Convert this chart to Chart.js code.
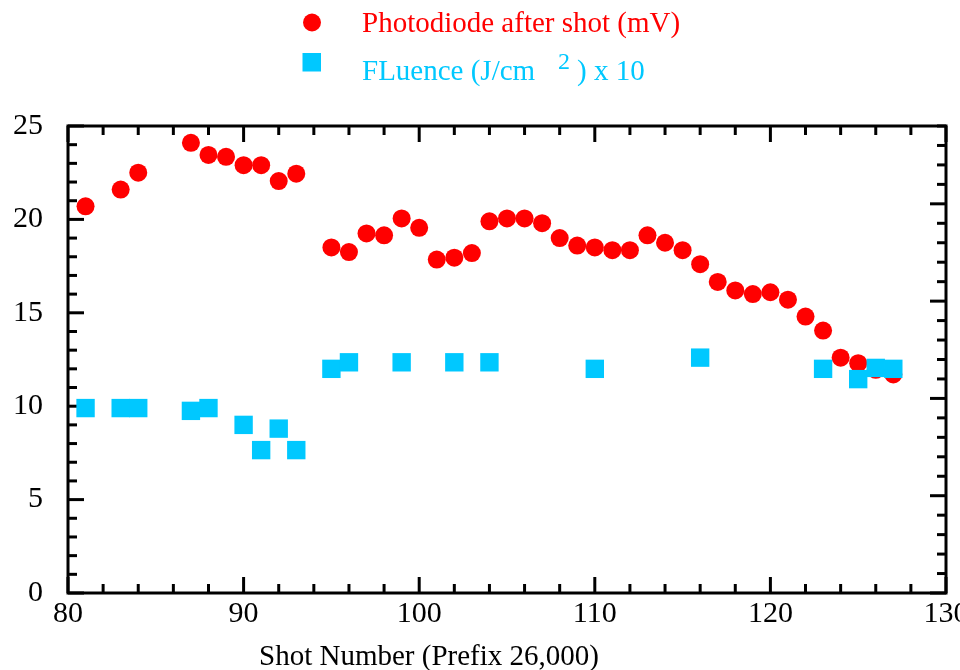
<!DOCTYPE html>
<html>
<head>
<meta charset="utf-8">
<script src="https://cdn.jsdelivr.net/npm/chart.js@4/dist/chart.umd.min.js"></script>
<style>
html,body{margin:0;padding:0;background:#fff;overflow:hidden}
#wrap{width:960px;height:670px;position:relative}
</style>
</head>
<body>
<div id="wrap"><canvas id="c" width="960" height="670"></canvas></div>
<script>
// ---- Data ----
const photodiodeShots = [81,83,84,87,88,89,90,91,92,93,95,96,97,98,99,100,101,102,103,104,105,106,107,108,109,110,111,112,113,114,115,116,117,118,119,120,121,122,123,124,125,126,127];
const photodiodeMV   = [20.7,21.6,22.5,24.1,23.45,23.35,22.9,22.9,22.05,22.45,18.5,18.25,19.25,19.15,20.05,19.55,17.85,17.95,18.2,19.9,20.05,20.05,19.8,19.0,18.6,18.5,18.35,18.35,19.15,18.75,18.35,17.6,16.65,16.2,16.0,16.1,15.7,14.8,14.05,12.6,12.3,11.95,11.7];
const fluenceShots   = [81,83,84,87,88,90,91,92,93,95,96,99,102,104,110,116,123,125,126,127];
const fluenceX10     = [9.9,9.9,9.9,9.75,9.9,9.0,7.65,8.8,7.65,12.0,12.35,12.35,12.35,12.35,12.0,12.6,12.0,11.45,12.05,12.0];

const xMajorTicks = [80,90,100,110,120,130];
const xMinorTicks = [82,84,86,88,92,94,96,98,102,104,106,108,112,114,116,118,122,124,126,128];
const yMajorTicks = [0,5,10,15,20,25];
const yMinorTicks = [1,2,3,4,6,7,8,9,11,12,13,14,16,17,18,19,21,22,23,24];
const y2MajorTicks = [0,5,10,15,20];
const y2MinorTicks = [1,2,3,4,6,7,8,9,11,12,13,14,16,17,18,19,21,22,23,24];

const legendLabels = ['Photodiode after shot (mV)', 'FLuence (J/cm', '2', ') x 10'];
const xTitle = 'Shot Number (Prefix 26,000)';

const RED = '#FF0000';
const BLUE = '#00C8FF';
const SERIF = '"Liberation Serif", "Times New Roman", serif';

// ---- Plugins ----
const frameTicks = {
  id: 'frameTicks',
  beforeDatasetsDraw(chart) {
    const {ctx, chartArea: a, scales} = chart;
    const x = scales.x, y = scales.y, y2 = scales.y2;
    ctx.save();
    ctx.strokeStyle = '#000';
    ctx.lineWidth = 3;
    ctx.lineCap = 'butt';
    const MAJ = 16, MIN = 9;
    const seg = (x1, y1, x2, y2_) => { ctx.beginPath(); ctx.moveTo(x1, y1); ctx.lineTo(x2, y2_); ctx.stroke(); };
    xMajorTicks.forEach(v => { const p = x.getPixelForValue(v); seg(p, a.bottom, p, a.bottom - MAJ); seg(p, a.top, p, a.top + MAJ); });
    xMinorTicks.forEach(v => { const p = x.getPixelForValue(v); seg(p, a.bottom, p, a.bottom - MIN); seg(p, a.top, p, a.top + MIN); });
    yMajorTicks.forEach(v => { const p = y.getPixelForValue(v); seg(a.left, p, a.left + MAJ, p); });
    yMinorTicks.forEach(v => { const p = y.getPixelForValue(v); seg(a.left, p, a.left + MIN, p); });
    y2MajorTicks.forEach(v => { const p = y2.getPixelForValue(v); seg(a.right, p, a.right - MAJ, p); });
    y2MinorTicks.forEach(v => { const p = y2.getPixelForValue(v); seg(a.right, p, a.right - MIN, p); });
    ctx.lineJoin = 'miter';
    ctx.strokeRect(a.left, a.top, a.right - a.left, a.bottom - a.top);
    ctx.restore();
  }
};

const customLegend = {
  id: 'customLegend',
  afterDraw(chart) {
    const ctx = chart.ctx;
    ctx.save();
    ctx.textBaseline = 'alphabetic';
    ctx.textAlign = 'left';
    // red circle marker
    ctx.fillStyle = RED;
    ctx.beginPath(); ctx.arc(312, 22.5, 9, 0, Math.PI * 2); ctx.fill();
    ctx.font = '29px ' + SERIF;
    ctx.fillText(legendLabels[0], 362, 32);
    // blue square marker
    ctx.fillStyle = BLUE;
    ctx.fillRect(302.5, 53, 18.5, 18.5);
    ctx.font = '29px ' + SERIF;
    ctx.fillText(legendLabels[1], 362, 80);
    ctx.font = '24px ' + SERIF;
    ctx.fillText(legendLabels[2], 558, 69);
    ctx.font = '29px ' + SERIF;
    ctx.fillText(legendLabels[3], 577, 80);
    // x-axis title
    ctx.fillStyle = '#000';
    ctx.font = '29px ' + SERIF;
    ctx.textAlign = 'center';
    ctx.fillText(xTitle, 429, 665);
    ctx.restore();
  }
};

// ---- Chart ----
new Chart(document.getElementById('c'), {
  type: 'scatter',
  data: {
    datasets: [
      {
        label: 'FLuence (J/cm²) x 10',
        data: fluenceShots.map((s, i) => ({x: s, y: fluenceX10[i]})),
        pointStyle: 'rect',
        pointRadius: 13,
        pointHoverRadius: 13,
        backgroundColor: BLUE,
        borderWidth: 0,
        order: 0
      },
      {
        label: 'Photodiode after shot (mV)',
        data: photodiodeShots.map((s, i) => ({x: s, y: photodiodeMV[i]})),
        pointStyle: 'circle',
        pointRadius: 9,
        pointHoverRadius: 9,
        backgroundColor: RED,
        borderWidth: 0,
        order: 1
      }
    ]
  },
  options: {
    responsive: false,
    animation: false,
    events: [],
    layout: {padding: {top: 126, left: 0, right: 14, bottom: 0}},
    plugins: {legend: {display: false}, tooltip: {enabled: false}},
    scales: {
      x: {
        type: 'linear', position: 'bottom', min: 80, max: 130,
        grid: {display: false}, border: {display: false},
        ticks: {stepSize: 10, padding: -5, color: '#000', maxRotation: 0, autoSkip: false,
                font: {family: SERIF, size: 30}},
        title: {display: false},
        afterFit(s) { s.height = 77; s.paddingLeft = 0; s.paddingRight = 0; }
      },
      y: {
        type: 'linear', position: 'left', min: 0, max: 25,
        grid: {display: false}, border: {display: false},
        ticks: {stepSize: 5, padding: 17, color: '#000', font: {family: SERIF, size: 30}},
        afterFit(s) { s.width = 68; s.paddingTop = 0; s.paddingBottom = 0; }
      },
      y2: {
        type: 'linear', position: 'right', min: 0, max: 24, display: false
      }
    }
  },
  plugins: [frameTicks, customLegend]
});
</script>
</body>
</html>
